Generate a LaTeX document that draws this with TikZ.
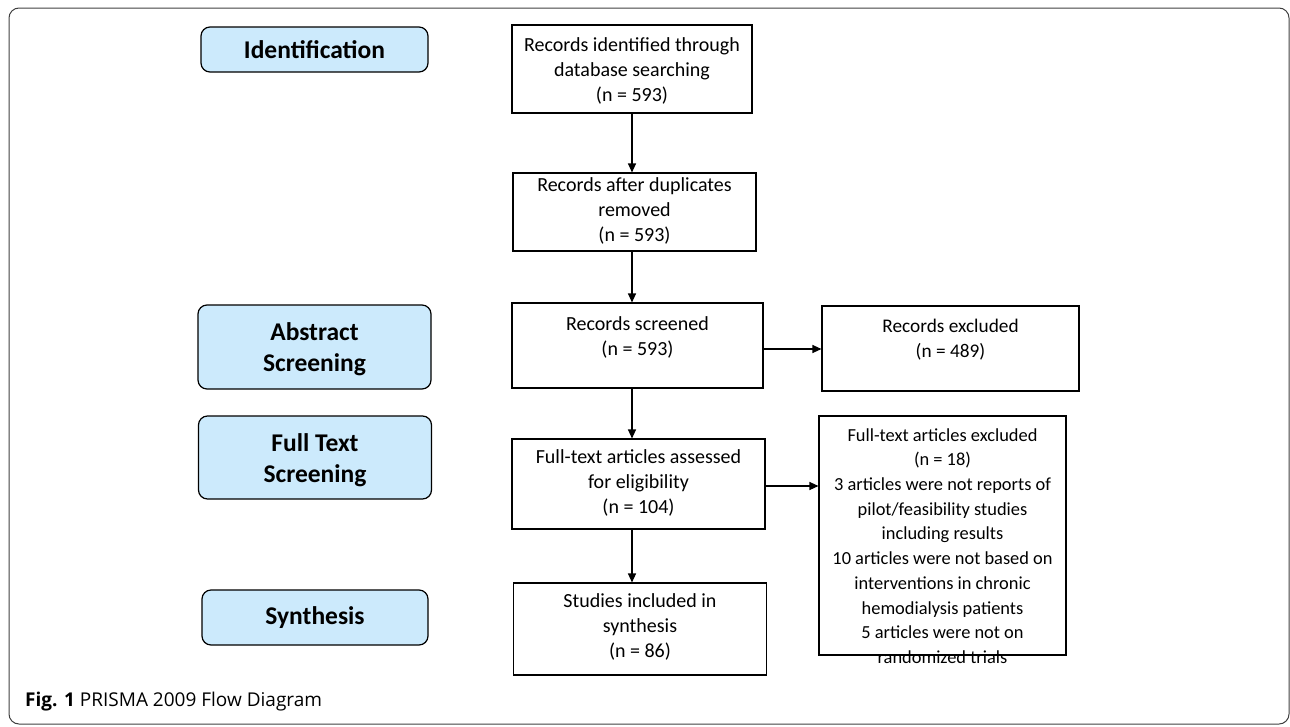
\documentclass[tikz,border=0pt]{standalone}
\usepackage{fontspec}
\setmainfont{Carlito}
\newfontfamily\capfont{Open Sans}
\usetikzlibrary{arrows.meta}
\definecolor{stagefill}{RGB}{204,234,252}
\begin{document}
\begin{tikzpicture}[x=1pt,y=-1pt,
  stage/.style={draw=black, line width=1.2pt, rounded corners=9pt, fill=stagefill, inner sep=0pt},
  stagetext/.style={font=\fontsize{25.5}{31}\selectfont\bfseries, align=center, inner sep=0pt},
  flowbox/.style={draw=black, line width=1.1pt, inner sep=0pt},
  flowtext/.style={font=\fontsize{20}{25}\selectfont, align=center, inner sep=0pt},
  conn/.style={line width=1.1pt, -{Triangle[length=9pt,width=8pt]}}]
\useasboundingbox (0,0) rectangle (1290,726);
\draw[line width=1pt, draw=black!75, rounded corners=10pt] (9,8) rectangle (1289,724);
% stages
\node[stage, minimum width=227pt, minimum height=45pt] (sid) at (314.5,49.5) {};
\node[stagetext] (sidt) at (314.5,50) {Identification};
\node[stage, minimum width=233pt, minimum height=84pt] (sab) at (314.5,347) {};
\node[stagetext] (sabt) at (314.5,349.5) {Abstract\\Screening};
\node[stage, minimum width=233pt, minimum height=83pt] (sft) at (315,457.5) {};
\node[stagetext] (sftt) at (315,460) {Full Text\\Screening};
\node[stage, minimum width=226pt, minimum height=55pt] (ssy) at (315,617.5) {};
\node[stagetext] (ssyt) at (315,618) {Synthesis};
% flow boxes
\node[flowbox, minimum width=240pt, minimum height=88pt] (b1) at (632,69) {};
\node[flowtext] (t1) at (632,70.5) {Records identified through\\database searching\\(n = 593)};
\node[flowbox, minimum width=243pt, minimum height=78pt] (b2) at (634.5,212) {};
\node[flowtext] (t2) at (634.5,210.5) {Records after duplicates\\removed\\(n = 593)};
\node[flowbox, minimum width=251pt, minimum height=85pt] (b3) at (637.5,345.5) {};
\node[flowtext] (t3) at (637.5,337) {Records screened\\(n = 593)};
\node[flowbox, minimum width=257pt, minimum height=85pt] (ex1) at (950.5,348.5) {};
\node[flowtext, font=\fontsize{19.3}{25}\selectfont] (t6) at (950.5,340) {Records excluded\\(n = 489)};
\node[flowbox, minimum width=253pt, minimum height=90pt] (b4) at (638.5,484) {};
\node[flowtext] (t4) at (638.5,483) {Full-text articles assessed\\for eligibility\\(n = 104)};
\node[flowbox, minimum width=253pt, minimum height=92pt] (b5) at (640,629) {};
\node[flowtext] (t5) at (640,627) {Studies included in\\synthesis\\(n = 86)};
\node[flowbox, minimum width=247pt, minimum height=239pt] (ex2) at (942.5,535.5) {};
\node[flowtext, font=\fontsize{18.4}{24.7}\selectfont] (t7) at (942.5,546) {Full-text articles excluded\\(n = 18)\\3 articles were not reports of\\pilot/feasibility studies\\including results\\10 articles were not based on\\interventions in chronic\\hemodialysis patients\\5 articles were not on\\randomized trials};
% connectors
\draw[conn] (b1.south -| 632,0) -- (b2.north -| 632,0);
\draw[conn] (b2.south -| 632,0) -- (b3.north -| 632,0);
\draw[conn] (b3.south -| 632,0) -- (b4.north -| 632,0);
\draw[conn] (b4.south -| 632,0) -- (b5.north -| 632,0);
\draw[conn] (b3.east |- 0,349) -- (ex1.west |- 0,349);
\draw[conn] (b4.east |- 0,486) -- (ex2.west |- 0,486);
% caption
\node[anchor=base west, font=\capfont\fontsize{19}{22}\selectfont, inner sep=0pt] (cap) at (25,706) {\textbf{Fig. 1} PRISMA 2009 Flow Diagram};
\end{tikzpicture}
\end{document}
